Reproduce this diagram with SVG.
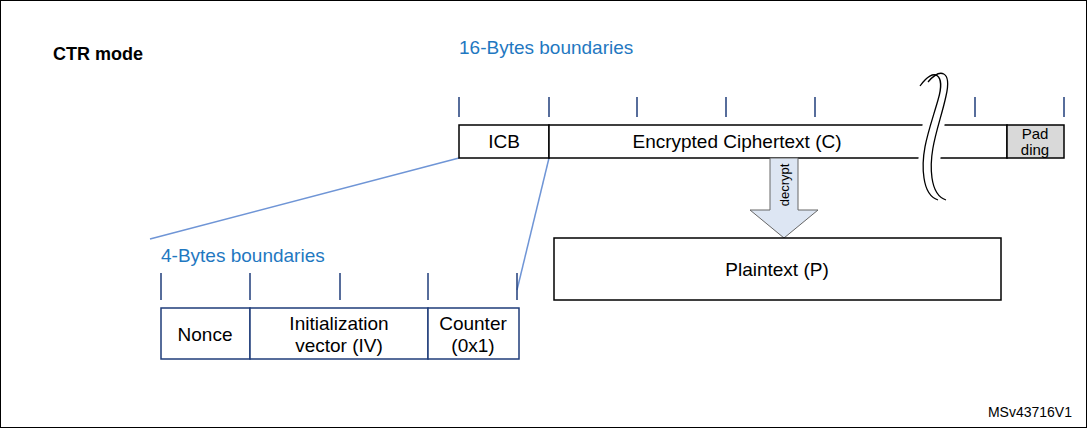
<svg xmlns="http://www.w3.org/2000/svg" width="1087" height="428" viewBox="0 0 1087 428">
<style>
text{font-family:"Liberation Sans",Arial,sans-serif;fill:#000}
.b{fill:#fff;stroke:#000;stroke-width:1.5}
.nb{fill:#fff;stroke:#1f3d7a;stroke-width:1.5}
.tk{stroke:#1f3d7a;stroke-width:1.5}
.lb{fill:#1f78c1;font-size:19px}
.t{font-size:19px;text-anchor:middle}
</style>
<rect x="0.5" y="0.5" width="1086" height="427" fill="#fff" stroke="#000"/>
<text x="53" y="60" font-size="18" font-weight="bold">CTR mode</text>
<text class="lb" x="459" y="54">16-Bytes boundaries</text>
<g id="ticks16">
<line class="tk" x1="459" y1="97" x2="459" y2="117"/><line class="tk" x1="549" y1="97" x2="549" y2="117"/><line class="tk" x1="637" y1="97" x2="637" y2="117"/><line class="tk" x1="726" y1="97" x2="726" y2="117"/><line class="tk" x1="815" y1="97" x2="815" y2="117"/><line class="tk" x1="975" y1="97" x2="975" y2="117"/><line class="tk" x1="1064" y1="97" x2="1064" y2="117"/>
</g>
<g id="connectors">
<line x1="459" y1="158" x2="150" y2="239" stroke="#6f95d6" stroke-width="1.5"/>
<line x1="549" y1="158" x2="517" y2="290" stroke="#6f95d6" stroke-width="1.5"/>
</g>
<g id="icb"><rect class="b" x="459" y="125" width="90" height="33"/><text class="t" x="504" y="148">ICB</text></g>
<g id="cipher"><rect class="b" x="549" y="125" width="458" height="33"/><text class="t" x="737" y="148">Encrypted Ciphertext (C)</text></g>
<g id="padding"><rect x="1007" y="125" width="57" height="33" fill="#d9d9d9" stroke="#000" stroke-width="1.5"/><text x="1035" y="139" font-size="15" text-anchor="middle">Pad</text><text x="1035" y="155" font-size="15" text-anchor="middle">ding</text></g>
<g id="break">
<path d="M923 121 L945 121 L940 162 L918 162 Z" fill="#fff"/>
<path d="M928 82 C940 68 952 70 946 96 C940 124 928 150 932 178 C934 192 940 198 946 200" fill="none" stroke="#000" stroke-width="1.3"/>
<path d="M920 86 C934 66 946 74 938 100 C930 128 920 152 924 178 C926 192 932 198 938 200" fill="none" stroke="#000" stroke-width="1.3"/>
</g>
<g id="decrypt">
<path d="M770 158 L798 158 L798 210 L818 210 L784 238 L750 210 L770 210 Z" fill="#dde6f3" stroke="#666" stroke-width="1"/>
<text x="0" y="0" font-size="13" text-anchor="middle" transform="translate(789 185) rotate(-90)">decrypt</text>
</g>
<g id="plaintext"><rect class="b" x="554" y="238" width="447" height="62"/><text class="t" x="777" y="276">Plaintext (P)</text></g>
<text class="lb" x="161" y="262">4-Bytes boundaries</text>
<g id="ticks4">
<line class="tk" x1="161" y1="273" x2="161" y2="300"/><line class="tk" x1="250" y1="273" x2="250" y2="300"/><line class="tk" x1="340" y1="273" x2="340" y2="300"/><line class="tk" x1="428" y1="273" x2="428" y2="300"/><line class="tk" x1="517" y1="273" x2="517" y2="300"/>
</g>
<g id="nonce"><rect class="nb" x="161" y="308" width="89" height="51"/><text class="t" x="205" y="341">Nonce</text></g>
<g id="iv"><rect class="nb" x="250" y="308" width="178" height="51"/><text class="t" x="339" y="330">Initialization</text><text class="t" x="339" y="352">vector (IV)</text></g>
<g id="counter"><rect class="nb" x="428" y="308" width="91" height="51"/><text class="t" x="473" y="330">Counter</text><text class="t" x="473" y="352">(0x1)</text></g>
<text x="1072" y="417" font-size="14" text-anchor="end">MSv43716V1</text>
</svg>
